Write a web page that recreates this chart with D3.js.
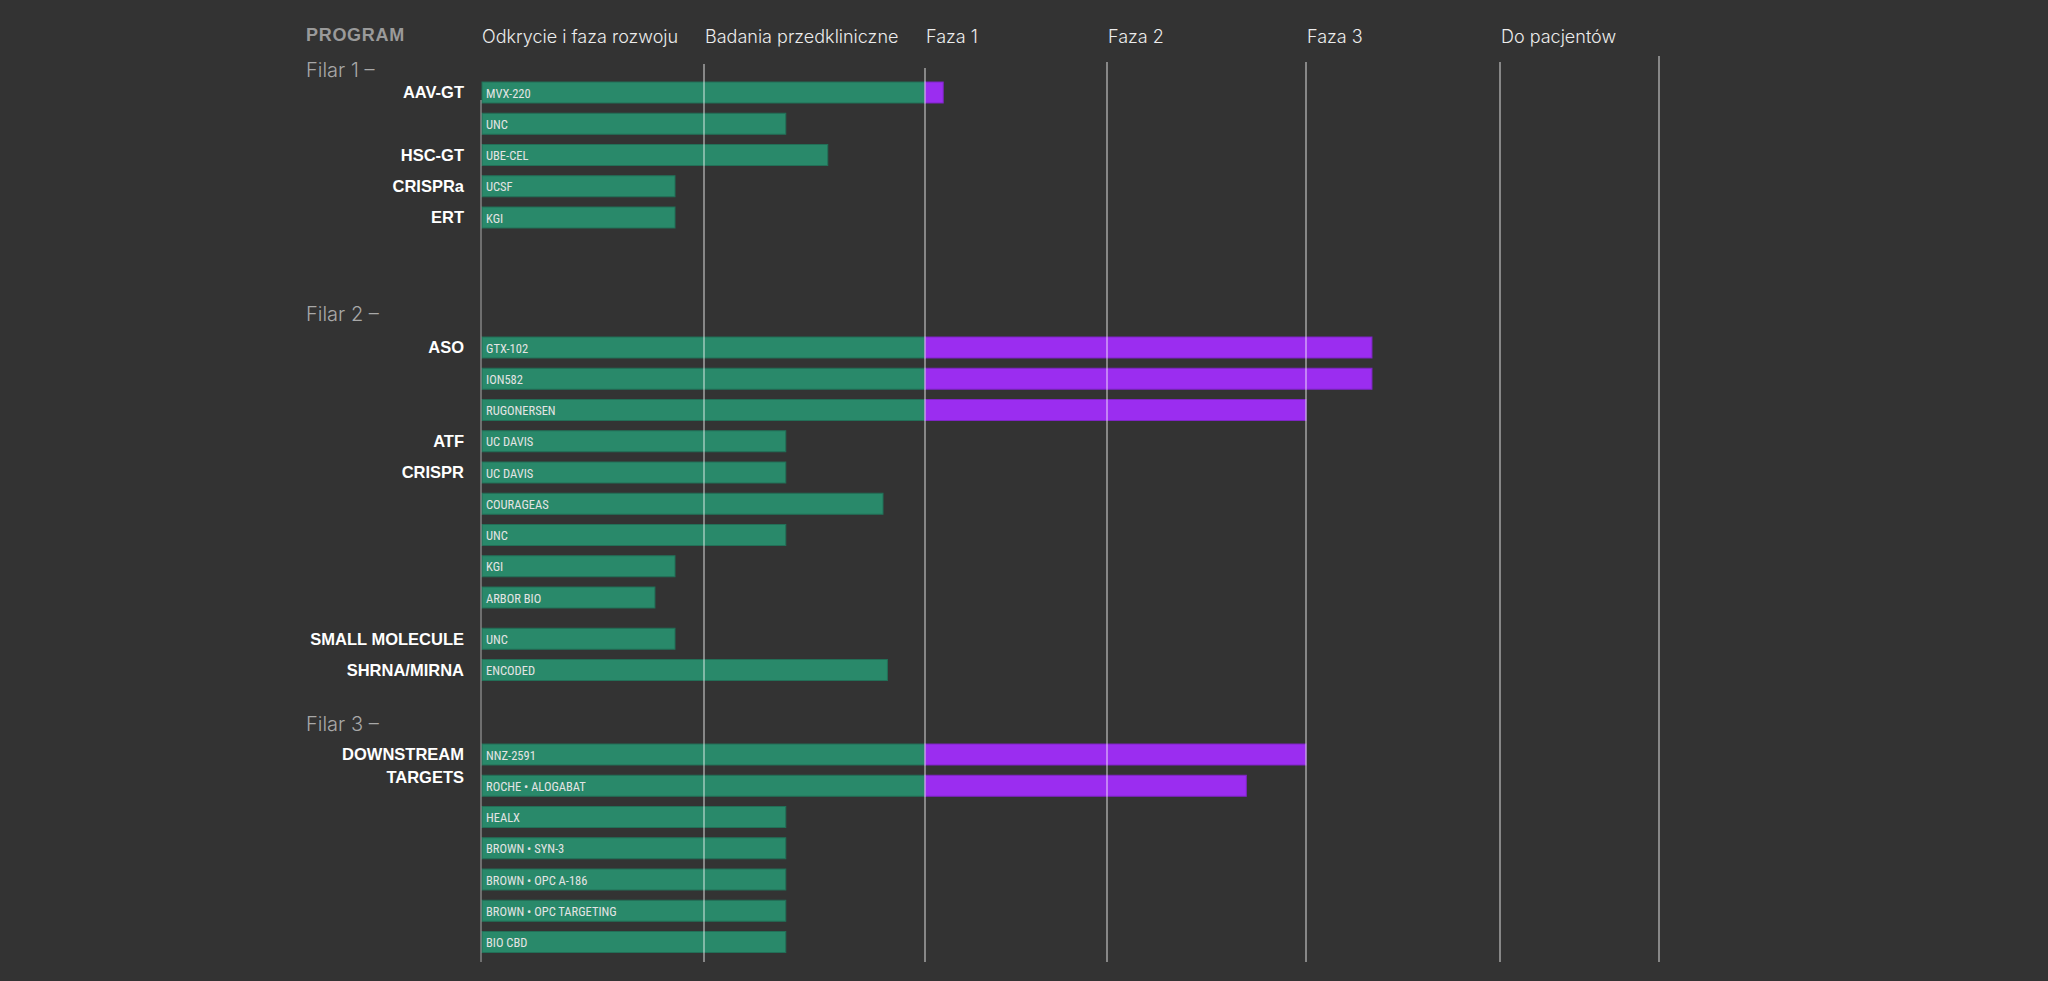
<!DOCTYPE html>
<html>
<head>
<meta charset="utf-8">
<script src="https://cdn.jsdelivr.net/npm/d3@7"></script>
<style>
  html, body { margin: 0; padding: 0; background: #333333; }
  svg { display: block; }
</style>
</head>
<body>
<div id="chart"></div>
<script>
// Pipeline stages (column headers) and the program rows
const stages = ["Odkrycie i faza rozwoju", "Badania przedkliniczne", "Faza 1", "Faza 2", "Faza 3", "Do pacjentów"];
const pillars = ["Filar 1 –", "Filar 2 –", "Filar 3 –"];

// one entry per bar: pillar index, modality (only on the first row of a block), label, progress in stage units
const rowPillar = [0, 0, 0, 0, 0,
                   1, 1, 1, 1, 1, 1, 1, 1, 1, 1, 1,
                   2, 2, 2, 2, 2, 2, 2];
const rowModality = ["AAV-GT", "", "HSC-GT", "CRISPRa", "ERT",
                     "ASO", "", "", "ATF", "CRISPR", "", "", "", "", "SMALL MOLECULE", "SHRNA/MIRNA",
                     "DOWNSTREAM\nTARGETS", "", "", "", "", "", ""];
const rowLabel = ["MVX-220", "UNC", "UBE-CEL", "UCSF", "KGI",
                  "GTX-102", "ION582", "RUGONERSEN", "UC DAVIS", "UC DAVIS", "COURAGEAS", "UNC", "KGI", "ARBOR BIO", "UNC", "ENCODED",
                  "NNZ-2591", "ROCHE • ALOGABAT", "HEALX", "BROWN • SYN-3", "BROWN • OPC A-186", "BROWN • OPC TARGETING", "BIO CBD"];
const rowProgress = [2.10, 1.37, 1.56, 0.87, 0.87,
                     4.34, 4.34, 4.00, 1.37, 1.37, 1.81, 1.37, 0.87, 0.78, 0.87, 1.83,
                     4.00, 3.70, 1.37, 1.37, 1.37, 1.37, 1.37];
const clinicalStart = 2; // from "Faza 1" on the bar turns purple

const width = 2048, height = 981;
const svg = d3.select("#chart").append("svg")
    .attr("width", width)
    .attr("height", height);

svg.append("rect").attr("width", width).attr("height", height).attr("fill", "#333333");

// stage boundaries are not evenly spaced in the original
const x = d3.scaleLinear()
    .domain([0, 1, 2, 3, 4, 5, 6])
    .range([481, 704, 925, 1107, 1306, 1500, 1659]);

// vertical layout
const pitch = 31.25, barH = 21;
const pillarY = [70, 314, 724];
const firstRowGap = [22.5, 33.5, 30.5];
const extraGap = { "SMALL MOLECULE": 10 };

const rows = rowLabel.map((label, i) => ({
    label, pillar: rowPillar[i], modality: rowModality[i], value: rowProgress[i]
}));
let lastPillar = -1, cursor = 0;
rows.forEach(r => {
    if (r.pillar !== lastPillar) {
        cursor = pillarY[r.pillar] + firstRowGap[r.pillar];
        lastPillar = r.pillar;
    } else {
        cursor += pitch + (extraGap[r.modality] || 0);
    }
    r.y = cursor;
});

const headFont = "Inter, 'Noto Sans', sans-serif";
const boldFont = "'Liberation Sans', Arial, sans-serif";
const barFont = "'Liberation Sans Narrow', 'Roboto Condensed', Roboto, sans-serif";

// header
svg.append("text")
    .attr("x", 306).attr("y", 35)
    .attr("dominant-baseline", "central")
    .attr("font-family", boldFont).attr("font-weight", 700)
    .attr("font-size", 18).attr("letter-spacing", 0.7)
    .attr("fill", "#9a9a9a")
    .text("PROGRAM");

svg.selectAll(".stage")
    .data(stages)
    .enter().append("text")
    .attr("class", "stage")
    .attr("x", (d, i) => x(i) + 1)
    .attr("y", 36)
    .attr("dominant-baseline", "central")
    .attr("font-family", headFont).attr("font-weight", 300)
    .attr("font-size", 18)
    .attr("fill", "#ececec")
    .text(d => d);

// pillar labels
svg.selectAll(".pillar")
    .data(pillars)
    .enter().append("text")
    .attr("class", "pillar")
    .attr("x", 306)
    .attr("y", (d, i) => pillarY[i])
    .attr("dominant-baseline", "central")
    .attr("font-family", headFont).attr("font-weight", 300)
    .attr("font-size", 20)
    .attr("fill", "#a8a8a8")
    .text(d => d);

// bars: green up to the clinical phases, purple beyond
const bars = svg.append("g");
bars.selectAll(".pre")
    .data(rows)
    .enter().append("rect")
    .attr("x", x(0) + 1)
    .attr("y", d => d.y - barH / 2)
    .attr("width", d => x(Math.min(d.value, clinicalStart)) - x(0) - 1)
    .attr("height", barH)
    .attr("fill", "#29896a")
    .attr("stroke", "#226f57")
    .attr("stroke-width", 1);

bars.selectAll(".clin")
    .data(rows.filter(d => d.value > clinicalStart))
    .enter().append("rect")
    .attr("x", x(clinicalStart))
    .attr("y", d => d.y - barH / 2)
    .attr("width", d => x(d.value) - x(clinicalStart))
    .attr("height", barH)
    .attr("fill", "#9b2df0")
    .attr("stroke", "#7f25c6")
    .attr("stroke-width", 1);

bars.selectAll(".blabel")
    .data(rows)
    .enter().append("text")
    .attr("x", x(0) + 5)
    .attr("y", d => d.y + 0.5)
    .attr("dominant-baseline", "central")
    .attr("font-family", barFont)
    .attr("font-size", 12.5)
    .attr("fill", "#e4e4e4")
    .text(d => d.label);

// modality labels on the left
svg.selectAll(".mod")
    .data(rows.filter(d => d.modality))
    .enter().append("text")
    .attr("x", 464)
    .attr("y", d => d.y)
    .attr("text-anchor", "end")
    .attr("font-family", boldFont).attr("font-weight", 700)
    .attr("font-size", 16.5)
    .attr("fill", "#ffffff")
    .each(function(d) {
        const parts = d.modality.split("\n");
        d3.select(this).selectAll("tspan")
            .data(parts)
            .enter().append("tspan")
            .attr("x", 464)
            .attr("dy", (p, j) => j === 0 ? "0.35em" : 23)
            .text(p => p);
    });

// stage grid lines, drawn over the bars
const lineTop = [100, 64, 68, 62, 62, 62, 56];
svg.append("g").selectAll("line")
    .data(d3.range(7))
    .enter().append("line")
    .attr("x1", d => x(d)).attr("x2", d => x(d))
    .attr("y1", d => lineTop[d]).attr("y2", 962)
    .attr("stroke", d => d === 0 ? "rgba(255,255,255,0.4)" : "rgba(255,255,255,0.55)")
    .attr("stroke-width", 1.5);
</script>
</body>
</html>
